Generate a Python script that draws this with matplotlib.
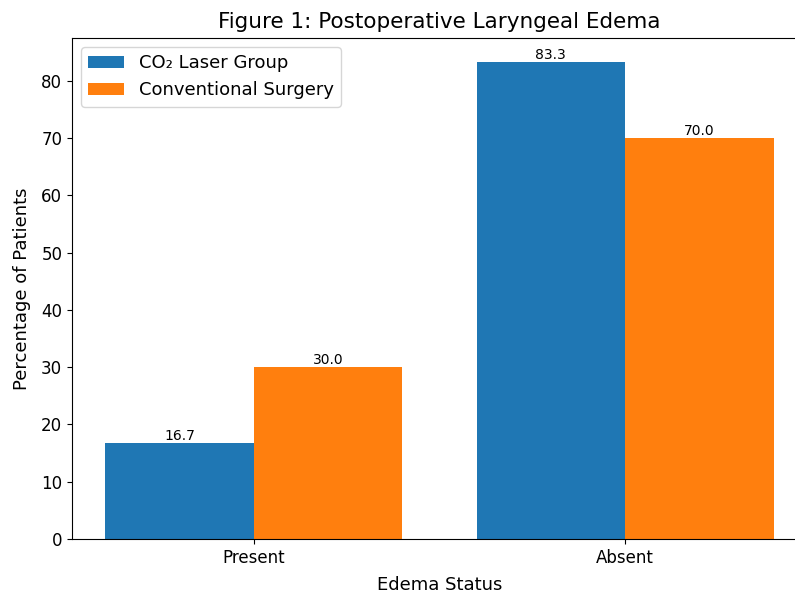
import matplotlib.pyplot as plt
import numpy as np

categories = ["Present", "Absent"]
laser = [16.7, 83.3]
conventional = [30.0, 70.0]
series_names = ["CO\u2082 Laser Group", "Conventional Surgery"]

fig = plt.figure(figsize=(7.95, 5.94), dpi=100)
ax = fig.add_axes([72/795, 1 - 539/594, (807 - 72)/795, (539 - 38)/594])

x = np.arange(len(categories))
w = 0.4
b1 = ax.bar(x - w/2, laser, w, label=series_names[0], color="#1f77b4")
b2 = ax.bar(x + w/2, conventional, w, label=series_names[1], color="#ff7f0e")
ax.bar_label(b1, fmt="%.1f", fontsize=10)
ax.bar_label(b2, fmt="%.1f", fontsize=10)

ax.set_xticks(x)
ax.set_xticklabels(categories)
ax.tick_params(labelsize=12)
ax.set_xlabel("Edema Status", fontsize=13, labelpad=6.5)
ax.set_ylabel("Percentage of Patients", fontsize=13, labelpad=7)
ax.set_title("Figure 1: Postoperative Laryngeal Edema", fontsize=15.5, pad=7.5)
ax.legend(fontsize=13, loc="upper left")
ax.spines["right"].set_visible(False)

fig.savefig("out.png")
